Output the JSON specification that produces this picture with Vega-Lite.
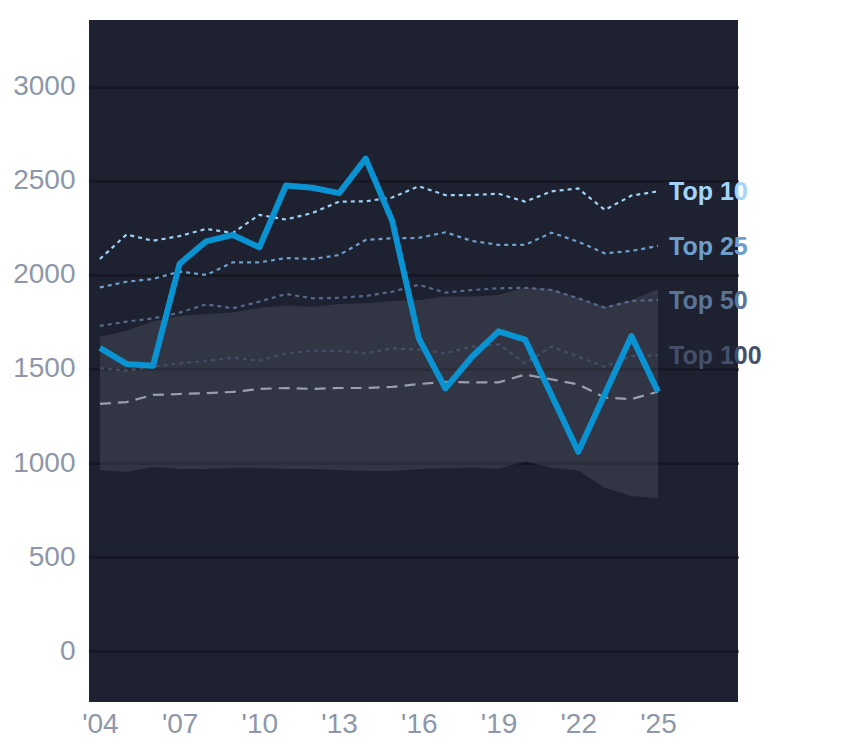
{
  "$schema": "https://vega.github.io/schema/vega-lite/v6.json",
  "autosize": {"type": "none"},
  "padding": {"left": 89, "top": 20, "right": 106, "bottom": 46},
  "width": 649,
  "height": 682,
  "background": "#ffffff",
  "datasets": {
    "band": [
      {"year": 2004, "lo": 963, "hi": 1672},
      {"year": 2005, "lo": 952, "hi": 1704},
      {"year": 2006, "lo": 979, "hi": 1752},
      {"year": 2007, "lo": 968, "hi": 1782},
      {"year": 2008, "lo": 968, "hi": 1793},
      {"year": 2009, "lo": 973, "hi": 1800},
      {"year": 2010, "lo": 973, "hi": 1826},
      {"year": 2011, "lo": 968, "hi": 1837},
      {"year": 2012, "lo": 968, "hi": 1831},
      {"year": 2013, "lo": 963, "hi": 1846},
      {"year": 2014, "lo": 957, "hi": 1849},
      {"year": 2015, "lo": 957, "hi": 1862},
      {"year": 2016, "lo": 968, "hi": 1867},
      {"year": 2017, "lo": 972, "hi": 1885},
      {"year": 2018, "lo": 975, "hi": 1885},
      {"year": 2019, "lo": 970, "hi": 1894},
      {"year": 2020, "lo": 1008, "hi": 1934},
      {"year": 2021, "lo": 975, "hi": 1926},
      {"year": 2022, "lo": 960, "hi": 1878},
      {"year": 2023, "lo": 868, "hi": 1831},
      {"year": 2024, "lo": 825, "hi": 1867},
      {"year": 2025, "lo": 812, "hi": 1926}
    ],
    "lines": [
      {"year": 2004, "series": "Top 10", "value": 2085},
      {"year": 2005, "series": "Top 10", "value": 2215},
      {"year": 2006, "series": "Top 10", "value": 2182},
      {"year": 2007, "series": "Top 10", "value": 2207},
      {"year": 2008, "series": "Top 10", "value": 2245},
      {"year": 2009, "series": "Top 10", "value": 2223},
      {"year": 2010, "series": "Top 10", "value": 2320},
      {"year": 2011, "series": "Top 10", "value": 2295},
      {"year": 2012, "series": "Top 10", "value": 2330},
      {"year": 2013, "series": "Top 10", "value": 2390},
      {"year": 2014, "series": "Top 10", "value": 2392},
      {"year": 2015, "series": "Top 10", "value": 2412},
      {"year": 2016, "series": "Top 10", "value": 2472},
      {"year": 2017, "series": "Top 10", "value": 2425},
      {"year": 2018, "series": "Top 10", "value": 2425},
      {"year": 2019, "series": "Top 10", "value": 2432},
      {"year": 2020, "series": "Top 10", "value": 2390},
      {"year": 2021, "series": "Top 10", "value": 2445},
      {"year": 2022, "series": "Top 10", "value": 2460},
      {"year": 2023, "series": "Top 10", "value": 2346},
      {"year": 2024, "series": "Top 10", "value": 2422},
      {"year": 2025, "series": "Top 10", "value": 2445},
      {"year": 2004, "series": "Top 25", "value": 1934},
      {"year": 2005, "series": "Top 25", "value": 1964},
      {"year": 2006, "series": "Top 25", "value": 1979},
      {"year": 2007, "series": "Top 25", "value": 2018},
      {"year": 2008, "series": "Top 25", "value": 2000},
      {"year": 2009, "series": "Top 25", "value": 2067},
      {"year": 2010, "series": "Top 25", "value": 2067},
      {"year": 2011, "series": "Top 25", "value": 2090},
      {"year": 2012, "series": "Top 25", "value": 2085},
      {"year": 2013, "series": "Top 25", "value": 2106},
      {"year": 2014, "series": "Top 25", "value": 2186},
      {"year": 2015, "series": "Top 25", "value": 2195},
      {"year": 2016, "series": "Top 25", "value": 2197},
      {"year": 2017, "series": "Top 25", "value": 2227},
      {"year": 2018, "series": "Top 25", "value": 2181},
      {"year": 2019, "series": "Top 25", "value": 2160},
      {"year": 2020, "series": "Top 25", "value": 2160},
      {"year": 2021, "series": "Top 25", "value": 2225},
      {"year": 2022, "series": "Top 25", "value": 2177},
      {"year": 2023, "series": "Top 25", "value": 2115},
      {"year": 2024, "series": "Top 25", "value": 2128},
      {"year": 2025, "series": "Top 25", "value": 2154},
      {"year": 2004, "series": "Top 50", "value": 1729},
      {"year": 2005, "series": "Top 50", "value": 1752},
      {"year": 2006, "series": "Top 50", "value": 1769},
      {"year": 2007, "series": "Top 50", "value": 1800},
      {"year": 2008, "series": "Top 50", "value": 1844},
      {"year": 2009, "series": "Top 50", "value": 1823},
      {"year": 2010, "series": "Top 50", "value": 1858},
      {"year": 2011, "series": "Top 50", "value": 1899},
      {"year": 2012, "series": "Top 50", "value": 1876},
      {"year": 2013, "series": "Top 50", "value": 1879},
      {"year": 2014, "series": "Top 50", "value": 1888},
      {"year": 2015, "series": "Top 50", "value": 1911},
      {"year": 2016, "series": "Top 50", "value": 1948},
      {"year": 2017, "series": "Top 50", "value": 1906},
      {"year": 2018, "series": "Top 50", "value": 1920},
      {"year": 2019, "series": "Top 50", "value": 1929},
      {"year": 2020, "series": "Top 50", "value": 1932},
      {"year": 2021, "series": "Top 50", "value": 1920},
      {"year": 2022, "series": "Top 50", "value": 1876},
      {"year": 2023, "series": "Top 50", "value": 1826},
      {"year": 2024, "series": "Top 50", "value": 1862},
      {"year": 2025, "series": "Top 50", "value": 1867},
      {"year": 2004, "series": "Top 100", "value": 1504},
      {"year": 2005, "series": "Top 100", "value": 1491},
      {"year": 2006, "series": "Top 100", "value": 1512},
      {"year": 2007, "series": "Top 100", "value": 1530},
      {"year": 2008, "series": "Top 100", "value": 1542},
      {"year": 2009, "series": "Top 100", "value": 1560},
      {"year": 2010, "series": "Top 100", "value": 1544},
      {"year": 2011, "series": "Top 100", "value": 1583},
      {"year": 2012, "series": "Top 100", "value": 1597},
      {"year": 2013, "series": "Top 100", "value": 1596},
      {"year": 2014, "series": "Top 100", "value": 1583},
      {"year": 2015, "series": "Top 100", "value": 1610},
      {"year": 2016, "series": "Top 100", "value": 1603},
      {"year": 2017, "series": "Top 100", "value": 1583},
      {"year": 2018, "series": "Top 100", "value": 1619},
      {"year": 2019, "series": "Top 100", "value": 1631},
      {"year": 2020, "series": "Top 100", "value": 1531},
      {"year": 2021, "series": "Top 100", "value": 1619},
      {"year": 2022, "series": "Top 100", "value": 1565},
      {"year": 2023, "series": "Top 100", "value": 1512},
      {"year": 2024, "series": "Top 100", "value": 1569},
      {"year": 2025, "series": "Top 100", "value": 1573},
      {"year": 2004, "series": "Median", "value": 1314},
      {"year": 2005, "series": "Median", "value": 1324},
      {"year": 2006, "series": "Median", "value": 1362},
      {"year": 2007, "series": "Median", "value": 1367},
      {"year": 2008, "series": "Median", "value": 1372},
      {"year": 2009, "series": "Median", "value": 1378},
      {"year": 2010, "series": "Median", "value": 1394},
      {"year": 2011, "series": "Median", "value": 1399},
      {"year": 2012, "series": "Median", "value": 1394},
      {"year": 2013, "series": "Median", "value": 1399},
      {"year": 2014, "series": "Median", "value": 1399},
      {"year": 2015, "series": "Median", "value": 1405},
      {"year": 2016, "series": "Median", "value": 1420},
      {"year": 2017, "series": "Median", "value": 1431},
      {"year": 2018, "series": "Median", "value": 1429},
      {"year": 2019, "series": "Median", "value": 1429},
      {"year": 2020, "series": "Median", "value": 1470},
      {"year": 2021, "series": "Median", "value": 1445},
      {"year": 2022, "series": "Median", "value": 1418},
      {"year": 2023, "series": "Median", "value": 1348},
      {"year": 2024, "series": "Median", "value": 1340},
      {"year": 2025, "series": "Median", "value": 1379},
      {"year": 2004, "series": "Main", "value": 1612},
      {"year": 2005, "series": "Main", "value": 1527},
      {"year": 2006, "series": "Main", "value": 1517},
      {"year": 2007, "series": "Main", "value": 2060},
      {"year": 2008, "series": "Main", "value": 2179},
      {"year": 2009, "series": "Main", "value": 2213},
      {"year": 2010, "series": "Main", "value": 2147},
      {"year": 2011, "series": "Main", "value": 2476},
      {"year": 2012, "series": "Main", "value": 2464},
      {"year": 2013, "series": "Main", "value": 2435},
      {"year": 2014, "series": "Main", "value": 2619},
      {"year": 2015, "series": "Main", "value": 2288},
      {"year": 2016, "series": "Main", "value": 1663},
      {"year": 2017, "series": "Main", "value": 1397},
      {"year": 2018, "series": "Main", "value": 1565},
      {"year": 2019, "series": "Main", "value": 1700},
      {"year": 2020, "series": "Main", "value": 1656},
      {"year": 2021, "series": "Main", "value": 1359},
      {"year": 2022, "series": "Main", "value": 1060},
      {"year": 2023, "series": "Main", "value": 1367},
      {"year": 2024, "series": "Main", "value": 1675},
      {"year": 2025, "series": "Main", "value": 1379}
    ]
  },
  "layer": [
    {
      "data": {"name": "band"},
      "mark": {"type": "area", "color": "#ffffff", "opacity": 0.095},
      "encoding": {
        "x": {
          "field": "year",
          "type": "quantitative",
          "title": null,
          "scale": {"domain": [2003.59, 2028.01], "nice": false, "zero": false},
          "axis": {
            "values": [2004, 2007, 2010, 2013, 2016, 2019, 2022, 2025],
            "labelExpr": "\"'\" + substring(toString(datum.value), 2)",
            "grid": false,
            "domain": false,
            "ticks": false,
            "labelPadding": 8,
            "labelFontSize": 28,
            "labelColor": "#8d97a9",
            "labelFont": "Liberation Sans"
          }
        },
        "y": {
          "field": "lo",
          "type": "quantitative",
          "title": null,
          "scale": {"domain": [-271, 3356], "nice": false, "zero": false},
          "axis": {
            "values": [0, 500, 1000, 1500, 2000, 2500, 3000],
            "format": "d",
            "grid": true,
            "gridColor": "#161924",
            "gridWidth": 3,
            "domain": false,
            "ticks": false,
            "labelPadding": 14,
            "labelFontSize": 28,
            "labelColor": "#8d97a9",
            "labelFont": "Liberation Sans"
          }
        },
        "y2": {"field": "hi"}
      }
    },
    {
      "data": {"name": "lines"},
      "transform": [{"filter": "datum.series != 'Main'"}],
      "mark": {"type": "line", "strokeWidth": 2.2},
      "encoding": {
        "x": {"field": "year", "type": "quantitative"},
        "y": {"field": "value", "type": "quantitative"},
        "color": {
          "field": "series",
          "type": "nominal",
          "legend": null,
          "scale": {
            "domain": ["Top 10", "Top 25", "Top 50", "Top 100", "Median"],
            "range": ["#9fd0f5", "#6e9fcc", "#56698a", "#434e66", "#9aa0ab"]
          }
        },
        "strokeDash": {
          "field": "series",
          "type": "nominal",
          "legend": null,
          "scale": {
            "domain": ["Top 10", "Top 25", "Top 50", "Top 100", "Median"],
            "range": [[4, 4], [4, 4], [4, 4], [4, 4], [11, 7]]
          }
        },
        "strokeWidth": {
          "field": "series",
          "type": "nominal",
          "legend": null,
          "scale": {
            "domain": ["Top 10", "Top 25", "Top 50", "Top 100", "Median"],
            "range": [2.2, 2.2, 2.2, 2.2, 3]
          }
        }
      }
    },
    {
      "data": {"name": "lines"},
      "transform": [{"filter": "datum.series == 'Main'"}],
      "mark": {"type": "line", "color": "#0a93d2", "strokeWidth": 6, "strokeJoin": "round"},
      "encoding": {
        "x": {"field": "year", "type": "quantitative"},
        "y": {"field": "value", "type": "quantitative"}
      }
    },
    {
      "data": {"name": "lines"},
      "transform": [{"filter": "datum.year == 2025 && indexof(datum.series, 'Top') == 0"}],
      "mark": {
        "type": "text",
        "align": "left",
        "baseline": "middle",
        "dx": 11,
        "dy": 1,
        "fontSize": 25,
        "fontWeight": "bold",
        "font": "Liberation Sans"
      },
      "encoding": {
        "x": {"field": "year", "type": "quantitative"},
        "y": {"field": "value", "type": "quantitative"},
        "text": {"field": "series"},
        "color": {
          "field": "series",
          "type": "nominal",
          "legend": null,
          "scale": {
            "domain": ["Top 10", "Top 25", "Top 50", "Top 100"],
            "range": ["#a3d5fb", "#6e9fcc", "#5a7596", "#44506a"]
          }
        }
      }
    }
  ],
  "resolve": {"scale": {"color": "independent"}},
  "config": {
    "view": {"fill": "#1d2130", "stroke": null},
    "font": "Liberation Sans"
  }
}
